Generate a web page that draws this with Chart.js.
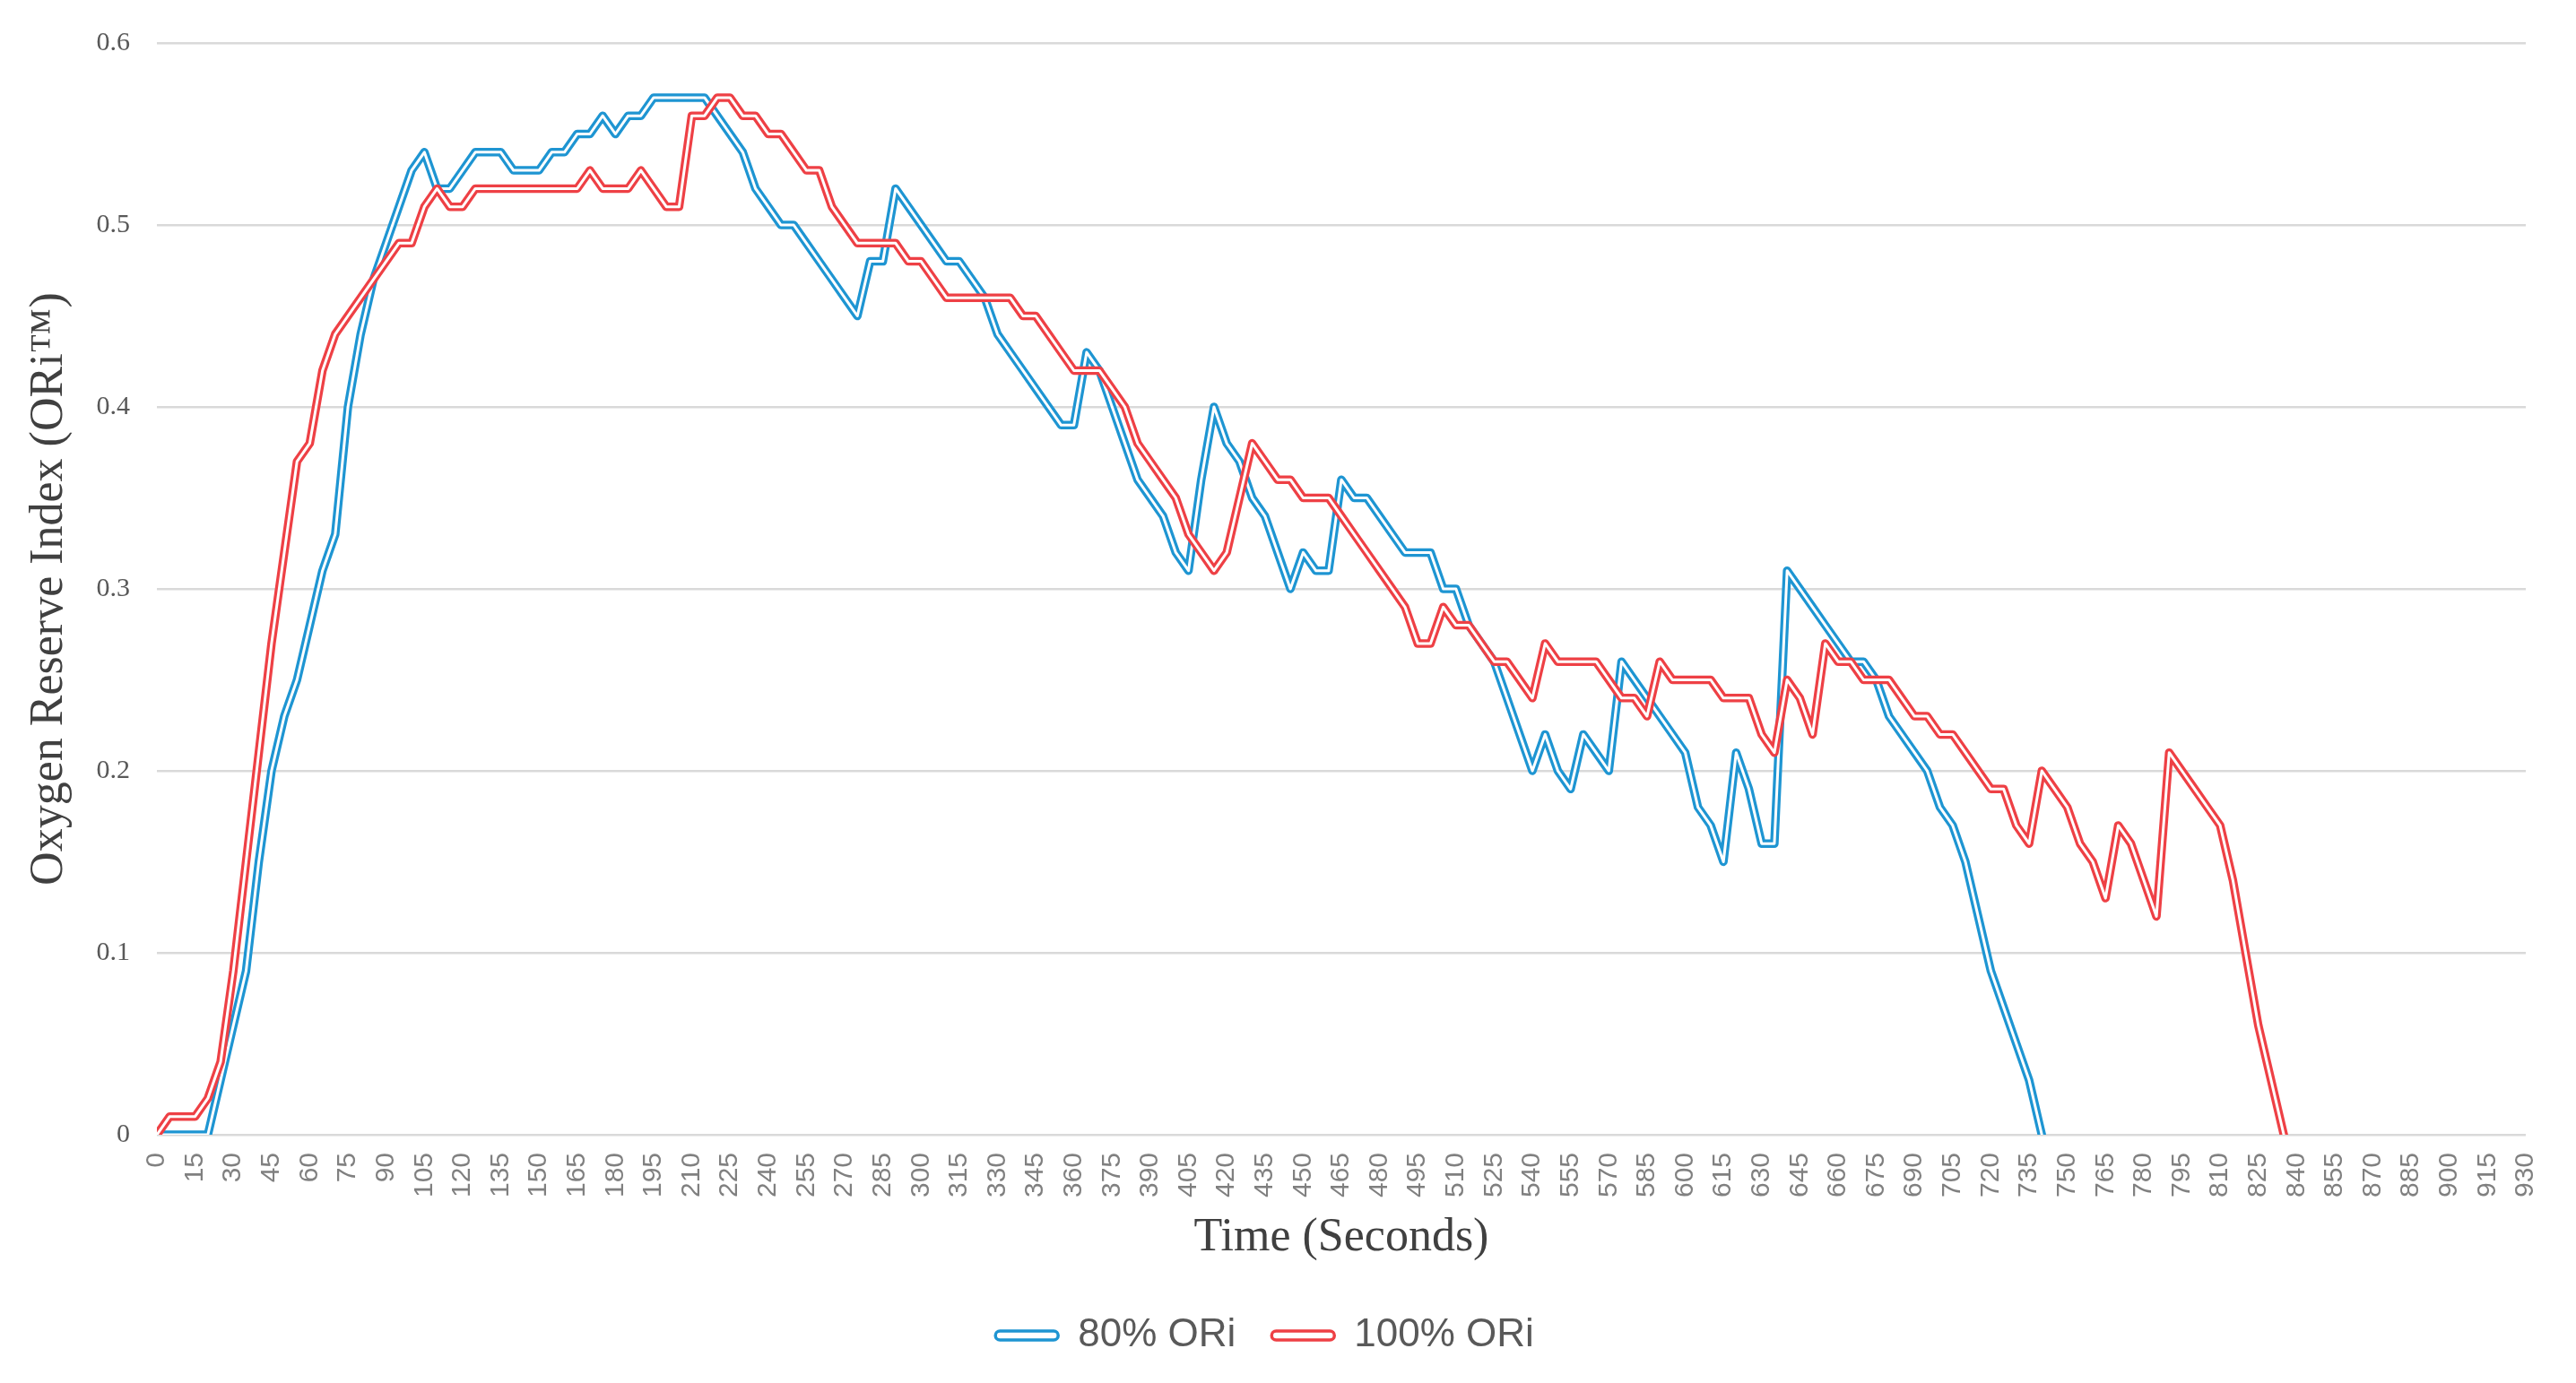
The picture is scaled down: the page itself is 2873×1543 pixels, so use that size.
<!DOCTYPE html>
<html>
<head>
<meta charset="utf-8">
<script src="https://cdn.jsdelivr.net/npm/chart.js@4.4.1/dist/chart.umd.min.js"></script>
<style>
html, body { margin: 0; padding: 0; background: #fff; }
#wrap { width: 2873px; height: 1543px; }
</style>
</head>
<body>
<div id="wrap"><canvas id="chart"></canvas></div>
<script>
// time in seconds, one reading every 5 s
const seconds = [
  0, 5, 10, 15, 20, 25, 30, 35, 40, 45, 50, 55, 60, 65, 70, 75, 80, 85, 90, 95,
  100, 105, 110, 115, 120, 125, 130, 135, 140, 145, 150, 155, 160, 165, 170, 175, 180, 185, 190, 195,
  200, 205, 210, 215, 220, 225, 230, 235, 240, 245, 250, 255, 260, 265, 270, 275, 280, 285, 290, 295,
  300, 305, 310, 315, 320, 325, 330, 335, 340, 345, 350, 355, 360, 365, 370, 375, 380, 385, 390, 395,
  400, 405, 410, 415, 420, 425, 430, 435, 440, 445, 450, 455, 460, 465, 470, 475, 480, 485, 490, 495,
  500, 505, 510, 515, 520, 525, 530, 535, 540, 545, 550, 555, 560, 565, 570, 575, 580, 585, 590, 595,
  600, 605, 610, 615, 620, 625, 630, 635, 640, 645, 650, 655, 660, 665, 670, 675, 680, 685, 690, 695,
  700, 705, 710, 715, 720, 725, 730, 735, 740, 745, 750, 755, 760, 765, 770, 775, 780, 785, 790, 795,
  800, 805, 810, 815, 820, 825, 830, 835
];

const ori80 = [
  0, 0, 0, 0, 0, 0.03, 0.06, 0.09, 0.15, 0.20, 0.23, 0.25, 0.28, 0.31, 0.33, 0.40, 0.44, 0.47, 0.49, 0.51,
  0.53, 0.54, 0.52, 0.52, 0.53, 0.54, 0.54, 0.54, 0.53, 0.53, 0.53, 0.54, 0.54, 0.55, 0.55, 0.56, 0.55, 0.56, 0.56, 0.57,
  0.57, 0.57, 0.57, 0.57, 0.56, 0.55, 0.54, 0.52, 0.51, 0.50, 0.50, 0.49, 0.48, 0.47, 0.46, 0.45, 0.48, 0.48, 0.52, 0.51,
  0.50, 0.49, 0.48, 0.48, 0.47, 0.46, 0.44, 0.43, 0.42, 0.41, 0.40, 0.39, 0.39, 0.43, 0.42, 0.40, 0.38, 0.36, 0.35, 0.34,
  0.32, 0.31, 0.36, 0.40, 0.38, 0.37, 0.35, 0.34, 0.32, 0.30, 0.32, 0.31, 0.31, 0.36, 0.35, 0.35, 0.34, 0.33, 0.32, 0.32,
  0.32, 0.30, 0.30, 0.28, 0.27, 0.26, 0.24, 0.22, 0.20, 0.22, 0.20, 0.19, 0.22, 0.21, 0.20, 0.26, 0.25, 0.24, 0.23, 0.22,
  0.21, 0.18, 0.17, 0.15, 0.21, 0.19, 0.16, 0.16, 0.31, 0.30, 0.29, 0.28, 0.27, 0.26, 0.26, 0.25, 0.23, 0.22, 0.21, 0.20,
  0.18, 0.17, 0.15, 0.12, 0.09, 0.07, 0.05, 0.03, 0
];

const ori100 = [
  0, 0.01, 0.01, 0.01, 0.02, 0.04, 0.09, 0.15, 0.21, 0.27, 0.32, 0.37, 0.38, 0.42, 0.44, 0.45, 0.46, 0.47, 0.48, 0.49,
  0.49, 0.51, 0.52, 0.51, 0.51, 0.52, 0.52, 0.52, 0.52, 0.52, 0.52, 0.52, 0.52, 0.52, 0.53, 0.52, 0.52, 0.52, 0.53, 0.52,
  0.51, 0.51, 0.56, 0.56, 0.57, 0.57, 0.56, 0.56, 0.55, 0.55, 0.54, 0.53, 0.53, 0.51, 0.50, 0.49, 0.49, 0.49, 0.49, 0.48,
  0.48, 0.47, 0.46, 0.46, 0.46, 0.46, 0.46, 0.46, 0.45, 0.45, 0.44, 0.43, 0.42, 0.42, 0.42, 0.41, 0.40, 0.38, 0.37, 0.36,
  0.35, 0.33, 0.32, 0.31, 0.32, 0.35, 0.38, 0.37, 0.36, 0.36, 0.35, 0.35, 0.35, 0.34, 0.33, 0.32, 0.31, 0.30, 0.29, 0.27,
  0.27, 0.29, 0.28, 0.28, 0.27, 0.26, 0.26, 0.25, 0.24, 0.27, 0.26, 0.26, 0.26, 0.26, 0.25, 0.24, 0.24, 0.23, 0.26, 0.25,
  0.25, 0.25, 0.25, 0.24, 0.24, 0.24, 0.22, 0.21, 0.25, 0.24, 0.22, 0.27, 0.26, 0.26, 0.25, 0.25, 0.25, 0.24, 0.23, 0.23,
  0.22, 0.22, 0.21, 0.20, 0.19, 0.19, 0.17, 0.16, 0.20, 0.19, 0.18, 0.16, 0.15, 0.13, 0.17, 0.16, 0.14, 0.12, 0.21, 0.20,
  0.19, 0.18, 0.17, 0.14, 0.10, 0.06, 0.03, 0
];

const blue = '#1e95d2';
const red = '#ee4045';

function points(values) {
  return values.map((v, i) => ({ x: seconds[i], y: v }));
}

// each series is drawn as a wide coloured stroke with a thin white core on top
function layers(label, values, color, order) {
  const base = {
    label: label,
    data: points(values),
    pointRadius: 0,
    tension: 0,
    borderJoinStyle: 'round',
    borderCapStyle: 'round',
    fill: false
  };
  return [
    Object.assign({}, base, { borderColor: color, borderWidth: 9.5, order: order + 1 }),
    Object.assign({}, base, { borderColor: '#ffffff', borderWidth: 3, order: order, core: true })
  ];
}

const ctx = document.getElementById('chart').getContext('2d');

new Chart(ctx, {
  type: 'line',
  data: {
    datasets: [
      ...layers('80% ORi', ori80, blue, 2),
      ...layers('100% ORi', ori100, red, 0)
    ]
  },
  options: {
    responsive: true,
    maintainAspectRatio: false,
    devicePixelRatio: 1,
    animation: false,
    events: [],
    layout: { padding: { top: 35, right: 52, left: 0, bottom: 21 } },
    scales: {
      x: {
        type: 'linear',
        min: 0,
        max: 930,
        afterFit: s => { s.height = 162; },
        border: { display: false },
        grid: { display: false, drawTicks: false },
        ticks: {
          stepSize: 15,
          autoSkip: false,
          maxRotation: 90,
          minRotation: 90,
          padding: 20,
          color: '#808080',
          font: { family: 'Liberation Sans', size: 30 }
        },
        title: {
          display: true,
          text: 'Time (Seconds)',
          color: '#404040',
          font: { family: 'Liberation Serif', size: 52 },
          padding: { top: 0, bottom: 15 }
        }
      },
      y: {
        min: 0,
        max: 0.6,
        afterFit: s => { s.width = 175; },
        border: { display: false },
        grid: { color: '#d9d9d9', lineWidth: 2.5, drawTicks: false },
        ticks: {
          stepSize: 0.1,
          padding: 30,
          color: '#595959',
          font: { family: 'Liberation Serif', size: 30 }
        },
        title: {
          display: true,
          text: 'Oxygen Reserve Index (ORi™)',
          color: '#404040',
          font: { family: 'Liberation Serif', size: 52 },
          padding: { top: 24, bottom: 0 }
        }
      }
    },
    plugins: {
      tooltip: { enabled: false },
      legend: {
        position: 'bottom',
        labels: {
          boxWidth: 70,
          boxHeight: 10,
          padding: 40,
          useBorderRadius: true,
          borderRadius: 5,
          color: '#595959',
          font: { family: 'Liberation Sans', size: 44 },
          sort: (a, b) => a.datasetIndex - b.datasetIndex,
          generateLabels(chart) {
            const items = Chart.defaults.plugins.legend.labels.generateLabels(chart);
            return items
              .filter(it => !chart.data.datasets[it.datasetIndex].core)
              .map(it => { it.fillStyle = '#ffffff'; it.lineWidth = 3.5; return it; });
          }
        }
      }
    }
  }
});
</script>
</body>
</html>
